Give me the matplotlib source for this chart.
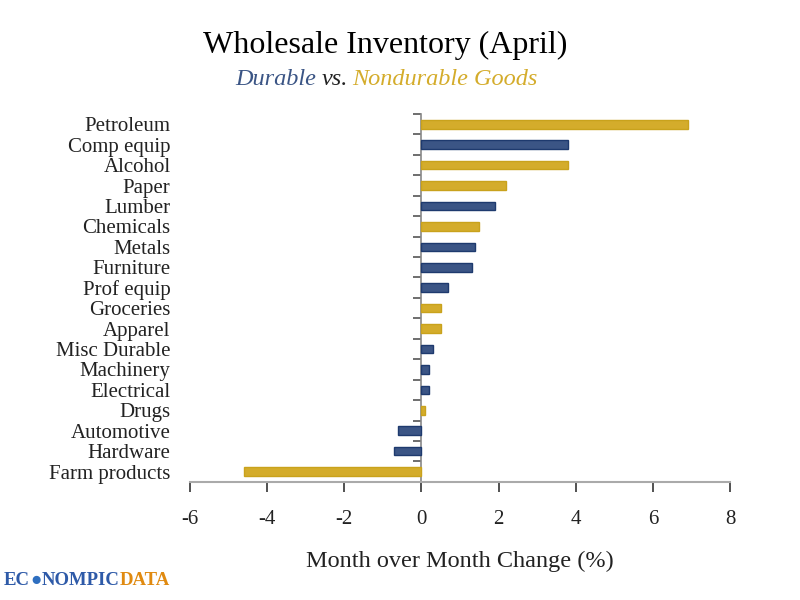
"""
Wholesale inventory, April: month over month change by category
"""
import matplotlib
matplotlib.use('Agg')
import matplotlib.pyplot as plt

# data, top to bottom as on the chart
categories = ['Petroleum', 'Comp equip', 'Alcohol', 'Paper', 'Lumber', 'Chemicals',
              'Metals', 'Furniture', 'Prof equip', 'Groceries', 'Apparel', 'Misc Durable',
              'Machinery', 'Electrical', 'Drugs', 'Automotive', 'Hardware', 'Farm products']
changes = [6.9, 3.8, 3.8, 2.2, 1.9, 1.5, 1.4, 1.3, 0.7, 0.5, 0.5, 0.3,
           0.2, 0.2, 0.1, -0.6, -0.7, -4.6]
durable = [False, True, False, False, True, False, True, True, True, False, False, True,
           True, True, False, True, True, False]
x_ticks = [-6, -4, -2, 0, 2, 4, 6, 8]

NAVY = '#3B5585'
NAVY_EDGE = '#1E3A6E'
GOLD = '#D4AC2B'
GOLD_EDGE = '#C9A21C'
SERIF = ['Liberation Serif', 'DejaVu Serif']

plt.rcParams['font.family'] = SERIF

fig = plt.figure(figsize=(8, 6), dpi=100)
ax = fig.add_axes([0.2375, 0.197, 0.675, 0.613])

n = len(categories)
ypos = list(range(n))
colors = [NAVY if d else GOLD for d in durable]
edges = [NAVY_EDGE if d else GOLD_EDGE for d in durable]
ax.barh(ypos, changes, height=0.42, color=colors, edgecolor=edges, linewidth=1)

ax.set_xlim(-6, 8)
ax.set_ylim(n - 0.5, -0.5)
ax.set_xticks(x_ticks)
ax.set_xticklabels([str(t) for t in x_ticks], fontsize=15, color='#222222')
ax.tick_params(axis='x', direction='out', length=7, width=1.2, color='#333333', pad=13)

# category labels sit at the left edge of the frame
ax.set_yticks(ypos)
ax.set_yticklabels(categories, fontsize=15, color='#222222')
ax.tick_params(axis='y', length=0, pad=14)

for side in ['top', 'right', 'left']:
    ax.spines[side].set_visible(False)
ax.spines['bottom'].set_color('#aaaaaa')
ax.spines['bottom'].set_linewidth(1.5)

# zero line with ticks between categories
zero_ax = ax.secondary_yaxis(6 / 14)
zero_ax.set_yticks([i - 0.5 for i in range(n + 1)])
zero_ax.set_yticklabels([])
zero_ax.tick_params(direction='out', length=6, width=1.2, color='#555555')
zero_ax.spines['left'].set_color('#888888')
zero_ax.spines['left'].set_linewidth(1.2)

ax.set_xlabel('Month over Month Change (%)', fontsize=17.5, labelpad=16, color='#222222')

fig.text(0.481, 0.925, 'Wholesale Inventory (April)', ha='center', va='center', fontsize=23)
fig.text(0.395, 0.868, 'Durable', ha='right', va='center', fontsize=17.5,
         style='italic', color=NAVY)
fig.text(0.402, 0.868, 'vs.', ha='left', va='center', fontsize=17.5,
         style='italic', color='#222222')
fig.text(0.440, 0.868, 'Nondurable Goods', ha='left', va='center', fontsize=17.5,
         style='italic', color=GOLD)

# logo, pieces chained left to right
logo_parts = [('EC', '#2E5AA8'), ('\u25cf', '#2F6FC0'), ('NOMPIC', '#2E5AA8'),
              ('DATA', '#E08A10')]
renderer = fig.canvas.get_renderer()
x_px = 4
for txt, col in logo_parts:
    t = fig.text(x_px / 800, 0.033, txt, ha='left', va='center', fontsize=13.5,
                 weight='bold', color=col, family=SERIF)
    x_px += t.get_window_extent(renderer).width

fig.savefig('out.png', dpi=100)
